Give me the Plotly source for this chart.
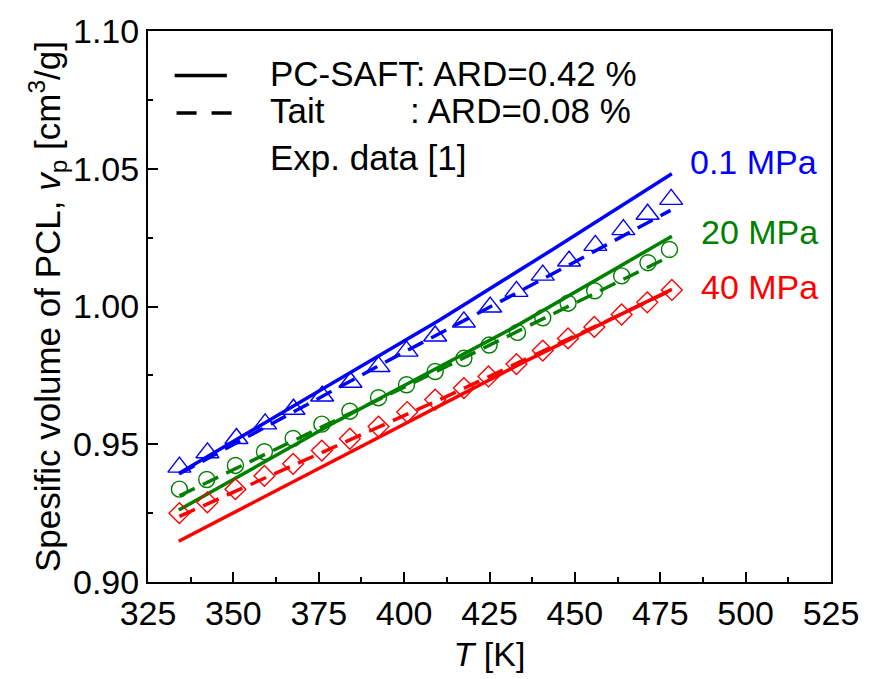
import plotly.graph_objects as go

# ---------------- data ----------------
# Experimental data [1]
T_01 = [334.2, 342.4, 350.9, 359.3, 367.6, 376.0, 384.3, 392.5, 400.7, 409.1,
        417.5, 425.2, 432.9, 440.6, 448.3, 456.0, 464.2, 471.3, 478.2]
v_01 = [0.9417, 0.9469, 0.9521, 0.9574, 0.9627, 0.9675, 0.9725, 0.9782, 0.9838, 0.9893,
        0.9944, 0.9998, 1.0055, 1.0114, 1.0165, 1.0222, 1.0279, 1.0335, 1.0389]

T_20 = [334.2, 342.2, 350.6, 359.1, 367.5, 375.9, 384.1, 392.5, 400.7, 409.1,
        417.5, 424.9, 433.2, 440.6, 448.0, 455.8, 463.7, 471.4, 477.7]
v_20 = [0.9337, 0.9372, 0.9423, 0.9473, 0.9521, 0.9573, 0.9620, 0.9669, 0.9716, 0.9764,
        0.9812, 0.9860, 0.9906, 0.9959, 1.0012, 1.0057, 1.0111, 1.0159, 1.0207]

T_40 = [334.2, 342.4, 350.6, 359.1, 367.5, 375.9, 384.1, 392.5, 400.9, 409.1,
        417.5, 424.7, 432.9, 440.6, 448.0, 455.7, 463.7, 471.2, 478.4]
v_40 = [0.9250, 0.9289, 0.9337, 0.9385, 0.9429, 0.9477, 0.9520, 0.9564, 0.9617, 0.9662,
        0.9704, 0.9746, 0.9791, 0.9840, 0.9884, 0.9926, 0.9971, 1.0015, 1.0060]

# PC-SAFT model curves
T_pcs_01 = [334.0, 380.5, 410.3, 443.5, 478.4]
v_pcs_01 = [0.9394, 0.9731, 0.9950, 1.0207, 1.0482]
T_pcs_20 = [334.0, 380.5, 400.7, 432.4, 478.4]
v_pcs_20 = [0.9261, 0.9585, 0.9718, 0.9926, 1.0255]
T_pcs_40 = [334.0, 380.5, 435.0, 478.4]
v_pcs_40 = [0.9148, 0.9447, 0.9798, 1.0062]

# Tait model curves
T_tait_01 = [334.2, 397.8, 440.1, 471.9, 478.0]
v_tait_01 = [0.9393, 0.9820, 1.0096, 1.0309, 1.0349]
T_tait_20 = [334.2, 400.0, 478.0]
v_tait_20 = [0.9313, 0.9707, 1.0183]
T_tait_40 = [334.2, 412.2, 478.0]
v_tait_40 = [0.9238, 0.9672, 1.0057]

pressure_labels = ["0.1 MPa", "20 MPa", "40 MPa"]
legend_texts = ["PC-SAFT: ARD=0.42 %", "Tait", ": ARD=0.08 %", "Exp. data [1]"]
x_ticks = [325, 350, 375, 400, 425, 450, 475, 500, 525]
y_ticks = [0.90, 0.95, 1.00, 1.05, 1.10]

# ---------------- styles ----------------
BLUE = "#0000FF"
GREEN = "#008000"
RED = "#FF0000"
FONT = "Arial, Liberation Sans, sans-serif"
LW = 3.5
DASH = "17px,9px"

fig = go.Figure()

series = [
    (T_01, v_01, T_pcs_01, v_pcs_01, T_tait_01, v_tait_01, BLUE, "triangle-up-open", 20),
    (T_20, v_20, T_pcs_20, v_pcs_20, T_tait_20, v_tait_20, GREEN, "circle-open", 16),
    (T_40, v_40, T_pcs_40, v_pcs_40, T_tait_40, v_tait_40, RED, "diamond-open", 16),
]

for Te, ve, Tp, vp, Tt, vt, col, sym, size in series:
    fig.add_trace(go.Scatter(x=Te, y=ve, mode="markers",
                             marker=dict(symbol=sym, size=size, color=col,
                                         line=dict(color=col, width=1.4)),
                             showlegend=False))
    fig.add_trace(go.Scatter(x=Tt, y=vt, mode="lines",
                             line=dict(color=col, width=LW, dash=DASH),
                             showlegend=False))
    fig.add_trace(go.Scatter(x=Tp, y=vp, mode="lines",
                             line=dict(color=col, width=LW),
                             showlegend=False))

# ---------------- layout ----------------
TICK_SIZE = 34
axis_common = dict(
    showgrid=False, zeroline=False, showline=True, linecolor="black",
    linewidth=2, mirror=True, ticks="inside", ticklen=10, tickwidth=2,
    tickcolor="black", tickfont=dict(family=FONT, size=TICK_SIZE, color="black"),
)

fig.update_layout(
    width=871, height=679,
    margin=dict(l=148, r=30, t=27, b=94),
    paper_bgcolor="white", plot_bgcolor="white",
    showlegend=False,
    font=dict(family=FONT, color="black"),
    xaxis=dict(range=[325, 525], tickvals=x_ticks,
               ticktext=[str(t) for t in x_ticks],
               minor=dict(ticks="inside", ticklen=5, tickwidth=2, tickcolor="black", dtick=12.5),
               title=dict(text="<i>T</i> [K]", font=dict(family=FONT, size=34), standoff=11),
               **axis_common),
    yaxis=dict(range=[0.90, 1.10], tickvals=y_ticks,
               ticktext=[f"{t:.2f}" for t in y_ticks],
               minor=dict(ticks="inside", ticklen=5, tickwidth=2, tickcolor="black", dtick=0.025),
               title=dict(text="Spesific volume of PCL, <i>v</i><sub>p</sub> [cm<sup>3</sup>/g]",
                          font=dict(family=FONT, size=35), standoff=2),
               **axis_common),
)

# legend drawn manually (line samples + text)
def px2paper_x(px):
    return (px - 148) / (871 - 148 - 30)

def px2paper_y(py):
    return (679 - 94 - py) / (679 - 94 - 27)

fig.add_shape(type="line", xref="paper", yref="paper",
              x0=px2paper_x(175), x1=px2paper_x(228), y0=px2paper_y(72), y1=px2paper_y(72),
              line=dict(color="black", width=LW))
fig.add_shape(type="line", xref="paper", yref="paper",
              x0=px2paper_x(177), x1=px2paper_x(233), y0=px2paper_y(110), y1=px2paper_y(110),
              line=dict(color="black", width=LW, dash="20px,15px"))

leg_font = dict(family=FONT, size=35, color="black")
legend_pos = [(270, 70, "left"), (270, 108, "left"), (640, 108, "right"), (270, 155, "left")]
for txt, (px, py, anc) in zip(legend_texts, legend_pos):
    fig.add_annotation(text=txt, xref="paper", yref="paper",
                       x=px2paper_x(px), y=px2paper_y(py), xanchor=anc, yanchor="middle",
                       showarrow=False, font=leg_font)

label_pos = [(696, 160, BLUE), (707, 231, GREEN), (707, 286, RED)]
for txt, (px, py, col) in zip(pressure_labels, label_pos):
    fig.add_annotation(text=txt, xref="paper", yref="paper",
                       x=px2paper_x(px), y=px2paper_y(py), xanchor="left", yanchor="middle",
                       showarrow=False, font=dict(family=FONT, size=34, color=col))

fig.write_html("out.html")
